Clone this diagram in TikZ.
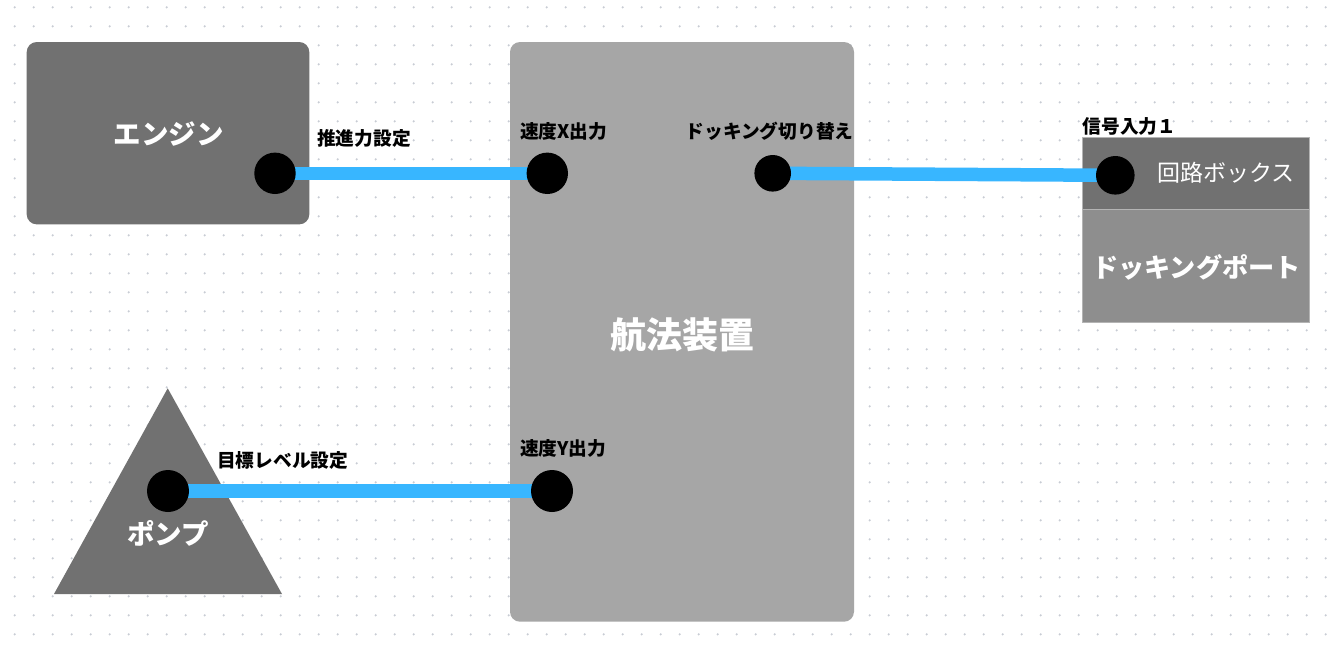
\documentclass[tikz,border=0pt]{standalone}
\usepackage{fontspec}
\setmainfont{Noto Sans CJK JP}
\usetikzlibrary{shapes.geometric}
\pgfdeclarelayer{bg}
\pgfdeclarelayer{boxes}
\pgfdeclarelayer{conn}
\pgfsetlayers{bg,boxes,conn,main}
\definecolor{darkbox}{HTML}{717171}
\definecolor{navbox}{HTML}{A6A6A6}
\definecolor{lowbox}{HTML}{8E8E8E}
\definecolor{wirecol}{HTML}{38B6FF}
\definecolor{griddot}{HTML}{C8CCD4}
\definecolor{boxedge}{HTML}{B4B4B4}
\begin{document}
\begin{tikzpicture}[x=1pt,y=-1pt,
  portdot/.style={circle,fill=black,inner sep=0pt,minimum size=#1},
  portlabel/.style={anchor=west,inner sep=0pt,font=\bfseries\fontsize{18.7}{18.7}\selectfont},
  wire/.style={draw=wirecol,line width=13.5pt},
  block/.style={inner sep=0pt,outer sep=0pt},
  bigtext/.style={inner sep=0pt,text=white,font=\bfseries\fontsize{#1}{#1}\selectfont}]
\useasboundingbox (0,0) rectangle (1331,648);
\begin{pgfonlayer}{bg}
\fill[white] (0,0) rectangle (1331,648);
\foreach \i in {0,...,69}{
  \foreach \j in {0,...,33}{
    \fill[griddot] (14.7+19*\i, 7.3+19*\j) circle (1.2);
  }
}
\end{pgfonlayer}
\begin{pgfonlayer}{boxes}
% engine
\node[block,fill=darkbox,rounded corners=10pt,minimum width=282.6pt,minimum height=182.3pt] (engine) at (168,133.2) {};
% navigation unit
\node[block,fill=navbox,rounded corners=10pt,minimum width=344pt,minimum height=579.7pt] (nav) at (682,331.85) {};
% pump triangle
\fill[darkbox] (167.7,388.3) -- (282,594) -- (54,594) -- cycle;
% docking port box
\node[block,fill=darkbox,draw=boxedge,line width=0.4pt,minimum width=227.6pt,minimum height=72.3pt] (circuit) at (1195.5,172.85) {};
\node[block,fill=lowbox,draw=boxedge,line width=0.4pt,minimum width=227.6pt,minimum height=113.3pt] (dock) at (1195.5,265.65) {};
\end{pgfonlayer}
% texts in shapes
\node[bigtext=27.5] (enginelabel) at (168.5,134) {エンジン};
\node[bigtext=36] (navlabel) at (682,335) {航法装置};
\node[bigtext=27.5] (pumplabel) at (168,533.5) {ポンプ};
\node[inner sep=0pt,text=white,font=\fontsize{23}{23}\selectfont] (circuitlabel) at (1226,173) {回路ボックス};
\node[bigtext=26.2] (docklabel) at (1196.5,267) {ドッキングポート};
% ports
\node[portdot=41.4pt] (pe) at (275,173.3) {};
\node[portdot=41.4pt] (px) at (547.3,173.3) {};
\node[portdot=36.6pt] (pd) at (772.7,173.3) {};
\node[portdot=42pt] (py) at (552,491) {};
\node[portdot=42pt] (pp) at (168,491) {};
\node[portdot=38.6pt] (pc) at (1115.3,175.3) {};
% port labels
\node[portlabel] (le) at (317,138) {推進力設定};
\node[portlabel] (lx) at (520,131.5) {速度X出力};
\node[portlabel] (ld) at (685.5,131.5) {ドッキング切り替え};
\node[portlabel] (ly) at (520,448.5) {速度Y出力};
\node[portlabel] (lp) at (217,460.5) {目標レベル設定};
\node[portlabel] (lc) at (1082.5,126) {信号入力１};
% connectors
\begin{pgfonlayer}{conn}
\draw[wire] (pe.center) -- (px.center);
\draw[wire] (pd.center) -- (pc.center);
\draw[wire] (pp.center) -- (py.center);
\end{pgfonlayer}
\end{tikzpicture}
\end{document}
